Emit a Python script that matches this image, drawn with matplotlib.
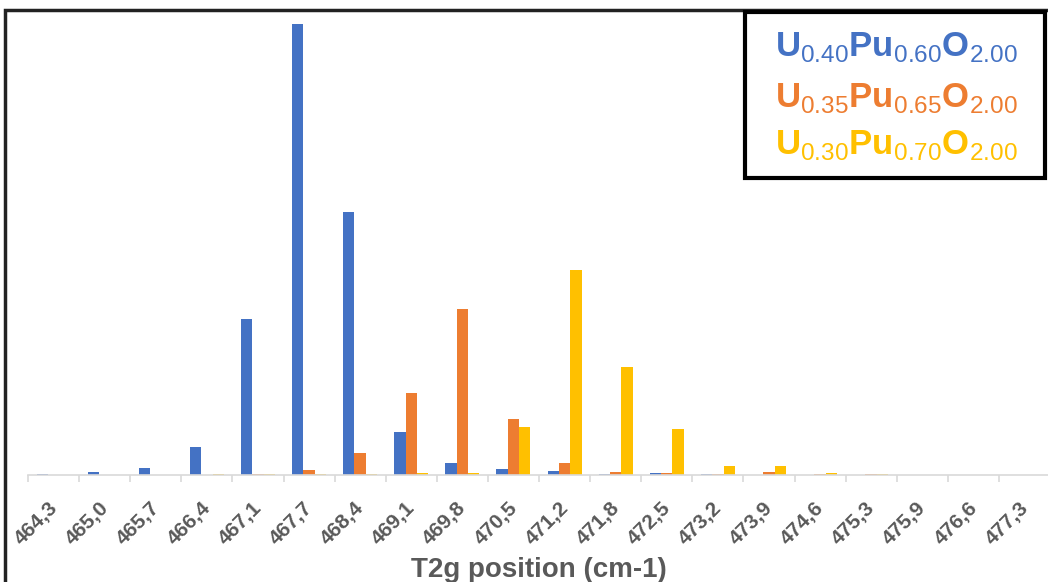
import numpy as np
import matplotlib.pyplot as plt
import matplotlib.transforms as mtransforms
from matplotlib.patches import Rectangle

plt.rcParams['font.family'] = ['Liberation Sans', 'DejaVu Sans']
plt.rcParams['mathtext.fontset'] = 'custom'
plt.rcParams['mathtext.rm'] = 'Liberation Sans'
plt.rcParams['mathtext.bf'] = 'Liberation Sans:bold'

positions = ['464,3', '465,0', '465,7', '466,4', '467,1', '467,7', '468,4',
             '469,1', '469,8', '470,5', '471,2', '471,8', '472,5', '473,2',
             '473,9', '474,6', '475,3', '475,9', '476,6', '477,3']

# occurrences per T2g position bin
u40 = [1, 3, 7, 28, 156, 451, 263, 43, 12, 6, 4, 1, 2, 1, 0, 0, 0, 0, 0, 0]
u35 = [0, 0, 0, 0, 1, 5, 22, 82, 166, 56, 12, 3, 2, 1, 3, 1, 1, 0, 0, 0]
u30 = [0, 0, 0, 1, 1, 1, 1, 2, 2, 48, 205, 108, 46, 9, 9, 2, 1, 0, 0, 0]

labels = [r'$\mathbf{U}_{\mathrm{0.40}}\mathbf{Pu}_{\mathrm{0.60}}\mathbf{O}_{\mathrm{2.00}}$',
          r'$\mathbf{U}_{\mathrm{0.35}}\mathbf{Pu}_{\mathrm{0.65}}\mathbf{O}_{\mathrm{2.00}}$',
          r'$\mathbf{U}_{\mathrm{0.30}}\mathbf{Pu}_{\mathrm{0.70}}\mathbf{O}_{\mathrm{2.00}}$']
colors = ['#4472C4', '#ED7D31', '#FFC000']

fig = plt.figure(figsize=(10.48, 5.82), dpi=100)
ax = fig.add_axes([28 / 1048, 107 / 582, 1022 / 1048, 463 / 582])

x = np.arange(len(positions))
w = 0.222
for i, (vals, c) in enumerate(zip([u40, u35, u30], colors)):
    ax.bar(x + (i - 1) * w, vals, width=w, color=c)

ax.set_xlim(-0.5, len(positions) - 0.5)
ax.set_ylim(0, 463)
for s in ['left', 'right', 'top']:
    ax.spines[s].set_visible(False)
ax.spines['bottom'].set_color('#D9D9D9')
ax.spines['bottom'].set_linewidth(1.2)
ax.set_yticks([])

ax.set_xticks(x)
ax.set_xticklabels(positions, rotation=45, ha='right', va='top',
                   rotation_mode='anchor', fontsize=15, fontweight='bold',
                   color='#595959')
ax.tick_params(axis='x', which='major', length=0, pad=17)
shift = mtransforms.ScaledTranslation(-6 / 100, 0, fig.dpi_scale_trans)
for t in ax.get_xticklabels():
    t.set_transform(t.get_transform() + shift)
ax.set_xticks(np.arange(len(positions) + 1) - 0.5, minor=True)
ax.tick_params(axis='x', which='minor', length=5, color='#D9D9D9', width=1.2)

ax.set_xlabel('T2g position (cm-1)', fontsize=20, fontweight='bold',
              color='#595959')
ax.xaxis.label.set_va('baseline')
ax.xaxis.set_label_coords(0.5, -(577 - 475) / 463)

# outer chart frame
fig.patches.append(Rectangle((5 / 1048, -0.2), 1.2, 1.2 - 10 / 582,
                             transform=fig.transFigure, fill=False,
                             edgecolor='#222222', linewidth=2.5, zorder=5))

# legend box
fig.patches.append(Rectangle((745 / 1048, 1 - 178 / 582), 300 / 1048, 166 / 582,
                             transform=fig.transFigure, facecolor='white',
                             edgecolor='black', linewidth=3, zorder=6))
for lab, c, base in zip(labels, colors, [56, 107, 154]):
    fig.text(775 / 1048, 1 - base / 582, lab, color=c, fontsize=25,
             ha='left', va='baseline', zorder=7)

fig.savefig('out.png', dpi=100)
